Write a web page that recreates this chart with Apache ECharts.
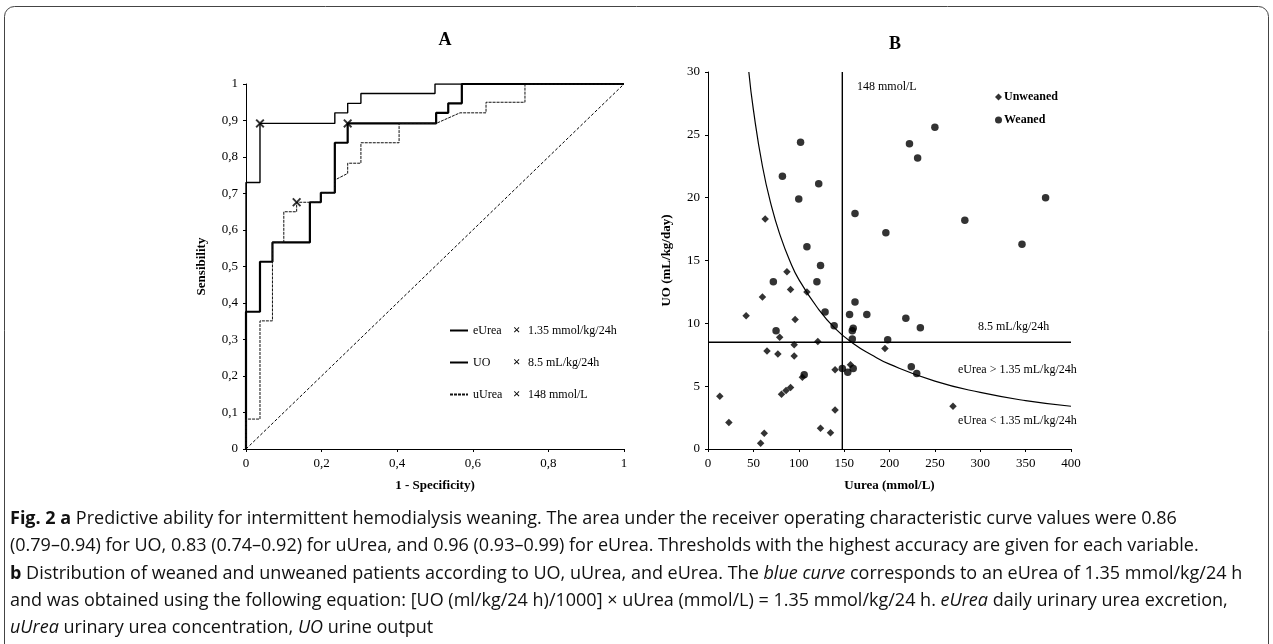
<!DOCTYPE html>
<html>
<head>
<meta charset="utf-8">
<script src="https://cdn.jsdelivr.net/npm/echarts@6/dist/echarts.min.js"></script>
<style>
  html, body { margin: 0; padding: 0; background: #fff; }
  #fig { width: 1273px; height: 644px; }
</style>
</head>
<body>
<div id="fig"></div>
<script>
// ROC curves (panel A)
var eureaFpr = [0, 0, 0.037, 0.037, 0.235, 0.235, 0.269, 0.269, 0.304, 0.304, 0.5, 0.5, 1];
var eureaTpr = [0, 0.73, 0.73, 0.892, 0.892, 0.921, 0.921, 0.947, 0.947, 0.974, 0.974, 1, 1];
var uoFpr = [0, 0, 0.037, 0.037, 0.07, 0.07, 0.169, 0.169, 0.198, 0.198, 0.235, 0.235, 0.269, 0.269, 0.503, 0.503, 0.535, 0.535, 0.571, 0.571, 1];
var uoTpr = [0, 0.376, 0.376, 0.513, 0.513, 0.566, 0.566, 0.676, 0.676, 0.702, 0.702, 0.839, 0.839, 0.892, 0.892, 0.921, 0.921, 0.947, 0.947, 1, 1];
var uureaFpr = [0, 0, 0.037, 0.037, 0.07, 0.07, 0.1, 0.1, 0.134, 0.134, 0.198, 0.198, 0.235, 0.235, 0.269, 0.269, 0.304, 0.304, 0.405, 0.405, 0.503, 0.566, 0.635, 0.635, 0.738, 0.738, 1];
var uureaTpr = [0, 0.082, 0.082, 0.351, 0.351, 0.566, 0.566, 0.65, 0.65, 0.676, 0.676, 0.702, 0.702, 0.737, 0.755, 0.783, 0.783, 0.839, 0.839, 0.892, 0.892, 0.921, 0.921, 0.95, 0.95, 1, 1];
// best thresholds (x marks): eUrea, UO, uUrea
var cutFpr = [0.037, 0.269, 0.134];
var cutTpr = [0.892, 0.892, 0.676];
var rocNames = ['eUrea', 'UO', 'uUrea'];
var rocCuts = ['1.35 mmol/kg/24h', '8.5 mL/kg/24h', '148 mmol/L'];

// panel B scatter: uUrea (mmol/L) / UO (mL/kg/day)
var unweanedX = [13, 23, 58, 62, 42, 60, 63, 65, 77, 79, 87, 91, 96, 95, 95, 81, 86, 91, 104, 109, 121, 140, 140, 124, 135, 157, 195, 270];
var unweanedY = [4.2, 2.1, 0.45, 1.25, 10.6, 12.1, 18.3, 7.8, 7.55, 8.9, 14.1, 12.7, 10.3, 8.3, 7.4, 4.35, 4.65, 4.9, 5.7, 12.5, 8.55, 6.3, 3.1, 1.65, 1.3, 6.7, 8.0, 3.4];
var weanedX = [75, 72, 106, 109, 120, 124, 129, 139, 148, 154, 160, 156, 162, 159, 160, 159, 175, 198, 196, 218, 234, 224, 230, 82, 102, 100, 122, 162, 222, 231, 250, 372, 283, 346];
var weanedY = [9.4, 13.3, 5.9, 16.1, 13.3, 14.6, 10.9, 9.8, 6.4, 6.1, 6.4, 10.7, 11.7, 9.4, 9.6, 8.75, 10.7, 8.7, 17.2, 10.4, 9.65, 6.55, 6.0, 21.7, 24.4, 19.9, 21.1, 18.75, 24.3, 23.15, 25.6, 20.0, 18.2, 16.3];
// eUrea = 1.35 mmol/kg/24h iso-curve
var isoX = [45, 50, 60, 70, 80, 90, 100, 120, 140, 160, 180, 200, 250, 300, 350, 400];
var isoY = [30, 27, 22.5, 19.3, 16.9, 15, 13.5, 11.3, 9.6, 8.4, 7.5, 6.75, 5.4, 4.5, 3.85, 3.4];
var uureaCut = 148;
var uoCut = 8.5;

function pairs(xs, ys) {
  return xs.map(function (x, i) { return [x, ys[i]]; });
}

var serif = 'Liberation Serif';
var sans = 'Open Sans';
var crossPath = 'path://M0,1.5L1.5,0L5,3.5L8.5,0L10,1.5L6.5,5L10,8.5L8.5,10L5,6.5L1.5,10L0,8.5L3.5,5Z';

var axisCommon = {
  axisLine: { lineStyle: { color: '#000', width: 1 } },
  axisTick: { length: 3, lineStyle: { color: '#000' } },
  axisLabel: { color: '#000', fontFamily: serif, fontSize: 13, margin: 8 },
  splitLine: { show: false }
};
function commaFmt(v) { return String(v).replace('.', ','); }

var myChart = echarts.init(document.getElementById('fig'));

var capSize = 18;
var captionRich = {
  b: { fontFamily: sans, fontSize: capSize, fontWeight: 'bold', fill: '#111' },
  i: { fontFamily: sans, fontSize: capSize, fontStyle: 'italic', fill: '#111' }
};
var captionLines = [
  '{b|Fig. 2 a} Predictive ability for intermittent hemodialysis weaning. The area under the receiver operating characteristic curve values were 0.86',
  '(0.79–0.94) for UO, 0.83 (0.74–0.92) for uUrea, and 0.96 (0.93–0.99) for eUrea. Thresholds with the highest accuracy are given for each variable.',
  '{b|b} Distribution of weaned and unweaned patients according to UO, uUrea, and eUrea. The {i|blue curve} corresponds to an eUrea of 1.35 mmol/kg/24 h',
  'and was obtained using the following equation: [UO (ml/kg/24 h)/1000] × uUrea (mmol/L) = 1.35 mmol/kg/24 h. {i|eUrea} daily urinary urea excretion,',
  '{i|uUrea} urinary urea concentration, {i|UO} urine output'
];
var captionY = [519, 546, 573.5, 601, 627.5];

var graphics = [
  { type: 'rect', shape: { x: 4.5, y: 6.5, width: 1264, height: 700, r: 10 }, style: { fill: 'none', stroke: '#444', lineWidth: 1 } },
  { type: 'text', x: 445, y: 40, style: { text: 'A', font: 'bold 18px "Liberation Serif"', fill: '#000', textAlign: 'center', textVerticalAlign: 'middle' } },
  { type: 'text', x: 895, y: 44, style: { text: 'B', font: 'bold 18px "Liberation Serif"', fill: '#000', textAlign: 'center', textVerticalAlign: 'middle' } },
  { type: 'text', x: 857, y: 87, style: { text: uureaCut + ' mmol/L', font: '12px "Liberation Serif"', fill: '#000', textVerticalAlign: 'middle' } },
  { type: 'text', x: 978, y: 327, style: { text: uoCut + ' mL/kg/24h', font: '12px "Liberation Serif"', fill: '#000', textVerticalAlign: 'middle' } },
  { type: 'text', x: 958, y: 370, style: { text: 'eUrea > 1.35 mL/kg/24h', font: '12px "Liberation Serif"', fill: '#000', textVerticalAlign: 'middle' } },
  { type: 'text', x: 958, y: 421, style: { text: 'eUrea < 1.35 mL/kg/24h', font: '12px "Liberation Serif"', fill: '#000', textVerticalAlign: 'middle' } }
];
captionLines.forEach(function (t, i) {
  graphics.push({
    type: 'text', x: 10, y: captionY[i],
    style: { text: t, rich: captionRich, font: capSize + 'px "Open Sans"', fill: '#111', textVerticalAlign: 'middle' }
  });
});

var option = {
  animation: false,
  backgroundColor: '#fff',
  textStyle: { fontFamily: serif },
  grid: [
    { left: 246, top: 84, width: 378, height: 365 },
    { left: 708, top: 72, width: 363, height: 377 }
  ],
  xAxis: [
    Object.assign({}, axisCommon, {
      gridIndex: 0, type: 'value', min: 0, max: 1, interval: 0.2,
      name: '1 - Specificity)', nameLocation: 'middle', nameGap: 30,
      nameTextStyle: { fontFamily: serif, fontSize: 13, fontWeight: 'bold', color: '#000' },
      axisLabel: Object.assign({}, axisCommon.axisLabel, { formatter: commaFmt })
    }),
    Object.assign({}, axisCommon, {
      gridIndex: 1, type: 'value', min: 0, max: 400, interval: 50,
      name: 'Uurea (mmol/L)', nameLocation: 'middle', nameGap: 30,
      nameTextStyle: { fontFamily: serif, fontSize: 13, fontWeight: 'bold', color: '#000' }
    })
  ],
  yAxis: [
    Object.assign({}, axisCommon, {
      gridIndex: 0, type: 'value', min: 0, max: 1, interval: 0.1,
      name: 'Sensibility', nameLocation: 'middle', nameGap: 38,
      nameTextStyle: { fontFamily: serif, fontSize: 13, fontWeight: 'bold', color: '#000' },
      axisLabel: Object.assign({}, axisCommon.axisLabel, { formatter: commaFmt })
    }),
    Object.assign({}, axisCommon, {
      gridIndex: 1, type: 'value', min: 0, max: 30, interval: 5,
      name: 'UO (mL/kg/day)', nameLocation: 'middle', nameGap: 35,
      nameTextStyle: { fontFamily: serif, fontSize: 13, fontWeight: 'bold', color: '#000' }
    })
  ],
  legend: [
    {
      data: rocNames, orient: 'vertical', left: 444, top: 319, itemGap: 19,
      itemWidth: 18, itemHeight: 8,
      itemStyle: { opacity: 0 },
      textStyle: {
        fontFamily: serif, fontSize: 12, color: '#000',
        rich: {
          n: { fontFamily: serif, fontSize: 12, width: 40 },
          x: { fontFamily: serif, fontSize: 13, fontWeight: 'bold', width: 15 },
          v: { fontFamily: serif, fontSize: 12 }
        }
      },
      formatter: function (name) {
        return '{n|' + name + '}{x|×}{v|' + rocCuts[rocNames.indexOf(name)] + '}';
      }
    },
    {
      data: ['Unweaned', 'Weaned'], orient: 'vertical', left: 990, top: 86, itemGap: 11,
      itemWidth: 7, itemHeight: 7,
      textStyle: { fontFamily: serif, fontSize: 12, fontWeight: 'bold', color: '#000', padding: [0, 0, 0, -3] }
    }
  ],
  graphic: graphics,
  series: [
    {
      type: 'line', name: 'diag', xAxisIndex: 0, yAxisIndex: 0, symbol: 'none',
      data: [[0, 0], [1, 1]], lineStyle: { color: '#000', width: 1, type: [3, 2] }
    },
    {
      type: 'line', name: 'eUrea', xAxisIndex: 0, yAxisIndex: 0, symbol: 'none',
      itemStyle: { color: '#000' },
      data: pairs(eureaFpr, eureaTpr), lineStyle: { color: '#000', width: 1.4 }
    },
    {
      type: 'line', name: 'UO', xAxisIndex: 0, yAxisIndex: 0, symbol: 'none',
      itemStyle: { color: '#000' },
      data: pairs(uoFpr, uoTpr), lineStyle: { color: '#000', width: 2.2 }
    },
    {
      type: 'line', name: 'uUrea', xAxisIndex: 0, yAxisIndex: 0, symbol: 'none',
      itemStyle: { color: '#000' },
      data: pairs(uureaFpr, uureaTpr), lineStyle: { color: '#111', width: 1, type: [3, 1] }
    },
    {
      type: 'scatter', name: 'cuts', xAxisIndex: 0, yAxisIndex: 0,
      symbol: crossPath, symbolSize: 9, itemStyle: { color: '#000' },
      data: pairs(cutFpr, cutTpr), z: 5
    },
    {
      type: 'line', name: 'iso', xAxisIndex: 1, yAxisIndex: 1, symbol: 'none', smooth: true,
      data: pairs(isoX, isoY), lineStyle: { color: '#000', width: 1.2 }
    },
    {
      type: 'line', name: 'uureaCut', xAxisIndex: 1, yAxisIndex: 1, symbol: 'none',
      data: [[uureaCut, 0], [uureaCut, 30]], lineStyle: { color: '#000', width: 1.4 }
    },
    {
      type: 'line', name: 'uoCut', xAxisIndex: 1, yAxisIndex: 1, symbol: 'none',
      data: [[0, uoCut], [400, uoCut]], lineStyle: { color: '#000', width: 1.4 }
    },
    {
      type: 'scatter', name: 'Unweaned', xAxisIndex: 1, yAxisIndex: 1,
      symbol: 'diamond', symbolSize: 7.5, itemStyle: { color: '#000' },
      data: pairs(unweanedX, unweanedY)
    },
    {
      type: 'scatter', name: 'Weaned', xAxisIndex: 1, yAxisIndex: 1,
      symbol: 'circle', symbolSize: 7.5, itemStyle: { color: '#000' },
      data: pairs(weanedX, weanedY)
    }
  ]
};
myChart.setOption(option);
</script>
</body>
</html>
